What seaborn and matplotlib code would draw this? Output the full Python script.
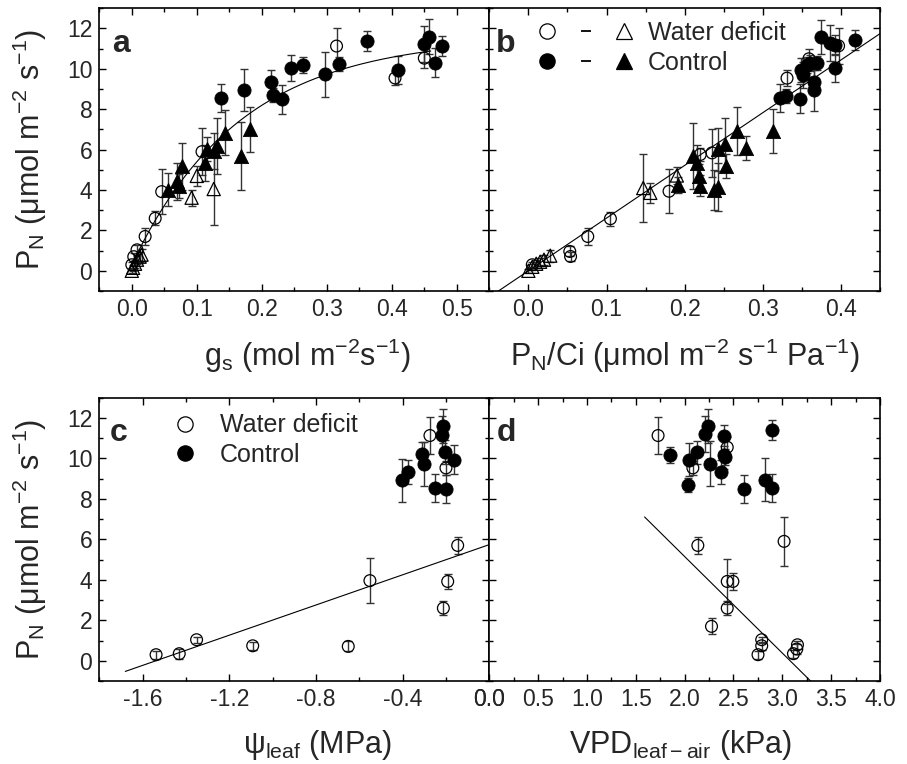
import numpy as np
import matplotlib
matplotlib.use("Agg")
import matplotlib.pyplot as plt
import seaborn as sns
from matplotlib.lines import Line2D
from matplotlib.legend_handler import HandlerTuple
from matplotlib.ticker import MultipleLocator

# ---------------- data ----------------
# (a) net photosynthesis vs stomatal conductance
a_wd_circ_x = [0.000, 0.003, 0.008, 0.0205, 0.036, 0.046, 0.108, 0.315, 0.405, 0.450]
a_wd_circ_y = [0.30, 0.70, 1.04, 1.70, 2.60, 3.92, 5.90, 11.13, 9.55, 10.53]
a_wd_circ_e = [0.15, 0.20, 0.25, 0.40, 0.35, 1.10, 1.17, 0.90, 0.35, 0.50]

a_wd_tri_x = [0.000, 0.002, 0.005, 0.008, 0.012, 0.015, 0.092, 0.100, 0.126]
a_wd_tri_y = [0.00, 0.15, 0.35, 0.55, 0.70, 0.80, 3.62, 4.70, 4.05]
a_wd_tri_e = [0.10, 0.15, 0.20, 0.20, 0.25, 0.30, 0.40, 0.50, 1.80]

a_ct_tri_x = [0.056, 0.069, 0.072, 0.077, 0.113, 0.115, 0.126, 0.131, 0.1435, 0.168, 0.182]
a_ct_tri_y = [4.02, 4.43, 4.19, 5.18, 5.35, 6.05, 5.92, 6.17, 6.84, 5.68, 7.00]
a_ct_tri_e = [0.80, 0.90, 0.60, 1.16, 0.90, 0.60, 0.90, 1.40, 1.10, 1.70, 1.10]

a_ct_circ_x = [0.137, 0.173, 0.214, 0.217, 0.231, 0.245, 0.264, 0.297, 0.319, 0.362,
               0.410, 0.449, 0.458, 0.467, 0.478]
a_ct_circ_y = [8.56, 8.95, 9.35, 8.69, 8.49, 10.05, 10.18, 9.73, 10.23, 11.40,
               9.96, 11.22, 11.60, 10.31, 11.15]
a_ct_circ_e = [0.70, 1.05, 0.58, 0.35, 0.70, 0.65, 0.40, 1.10, 0.35, 0.50,
               0.70, 0.90, 0.85, 0.70, 0.50]

# saturating fit P_N = y0 + A (1 - exp(-k gs))
a_fit_y0, a_fit_A, a_fit_k = 0.30, 11.3, 6.0
a_fit_range = (0.0, 0.46)

# (b) net photosynthesis vs carboxylation efficiency
b_wd_circ_x = [0.005, 0.053, 0.054, 0.076, 0.105, 0.180, 0.220, 0.235, 0.331, 0.359, 0.397]
b_wd_circ_y = [0.30, 0.96, 0.71, 1.70, 2.58, 3.94, 5.76, 5.84, 9.54, 10.50, 11.14]
b_wd_circ_e = [0.15, 0.25, 0.20, 0.40, 0.35, 1.10, 0.30, 1.17, 0.40, 0.50, 0.90]

b_wd_tri_x = [0.000, 0.005, 0.010, 0.015, 0.020, 0.028, 0.147, 0.156, 0.190]
b_wd_tri_y = [0.00, 0.20, 0.35, 0.45, 0.55, 0.75, 4.10, 3.86, 4.72]
b_wd_tri_e = [0.10, 0.15, 0.20, 0.20, 0.25, 0.30, 1.70, 0.50, 0.40]

b_ct_tri_x = [0.192, 0.211, 0.216, 0.218, 0.220, 0.237, 0.243, 0.243, 0.252, 0.253,
              0.267, 0.278, 0.313]
b_ct_tri_y = [4.27, 5.68, 5.35, 4.68, 4.22, 3.99, 4.16, 6.01, 6.26, 5.18,
              6.92, 6.09, 6.92]
b_ct_tri_e = [0.40, 1.65, 0.90, 0.60, 0.50, 1.00, 1.20, 1.08, 1.33, 0.60,
              1.20, 0.60, 1.10]

b_ct_circ_x = [0.322, 0.330, 0.348, 0.349, 0.352, 0.356, 0.361, 0.370, 0.365, 0.366,
               0.374, 0.386, 0.392, 0.392, 0.418]
b_ct_circ_y = [8.56, 8.66, 8.53, 9.93, 9.68, 10.18, 10.28, 10.28, 9.37, 8.96,
               11.59, 11.27, 11.20, 10.05, 11.42]
b_ct_circ_e = [0.70, 0.35, 0.70, 0.60, 0.65, 0.40, 0.40, 0.35, 0.58, 1.05,
               0.85, 0.90, 0.50, 0.70, 0.50]

b_fit_slope, b_fit_icpt = 26.1, 0.0
b_fit_range = (-0.05, 0.45)

# (c) net photosynthesis vs leaf water potential
c_wd_x = [-1.538, -1.431, -1.351, -1.092, -0.651, -0.551, -0.212, -0.192, -0.146, -0.274, -0.200]
c_wd_y = [0.30, 0.35, 1.04, 0.74, 0.71, 3.96, 2.60, 3.92, 5.70, 11.13, 9.53]
c_wd_e = [0.20, 0.25, 0.15, 0.20, 0.25, 1.10, 0.35, 0.35, 0.40, 0.90, 0.35]

c_ct_x = [-0.405, -0.377, -0.312, -0.300, -0.251, -0.220, -0.212, -0.205, -0.200, -0.163]
c_ct_y = [8.92, 9.33, 10.22, 9.72, 8.54, 11.18, 11.59, 10.30, 8.49, 9.94]
c_ct_e = [1.05, 0.60, 0.58, 1.10, 0.70, 0.90, 0.85, 0.60, 0.70, 0.70]

c_fit_slope, c_fit_icpt = 3.73, 5.74
c_fit_range = (-1.68, 0.0)

# (d) net photosynthesis vs leaf-to-air vapour pressure deficit
d_wd_x = [1.728, 2.084, 2.436, 2.135, 2.436, 2.494, 2.436, 2.275, 2.789, 2.789,
          2.751, 3.155, 3.148, 3.114, 3.018]
d_wd_y = [11.13, 9.53, 10.55, 5.70, 3.92, 3.92, 2.60, 1.70, 1.04, 0.74,
          0.30, 0.79, 0.58, 0.35, 5.90]
d_wd_e = [0.90, 0.35, 0.50, 0.40, 1.10, 0.40, 0.35, 0.40, 0.15, 0.20,
          0.20, 0.20, 0.25, 0.20, 1.20]

d_ct_x = [1.855, 2.032, 2.043, 2.128, 2.204, 2.241, 2.255, 2.375, 2.402, 2.402,
          2.412, 2.607, 2.820, 2.891, 2.891]
d_ct_y = [10.15, 8.70, 9.94, 10.30, 11.20, 11.59, 9.74, 9.33, 11.13, 10.19,
          10.05, 8.49, 8.95, 8.54, 11.39]
d_ct_e = [0.40, 0.35, 0.80, 0.58, 0.90, 0.85, 1.10, 0.58, 0.50, 0.70,
          0.40, 0.70, 1.05, 0.70, 0.50]

d_fit_slope, d_fit_icpt = -4.77, 14.69
d_fit_range = (1.59, 3.30)

# ---------------- style ----------------
sns.set_style("ticks")
plt.rcParams["font.family"] = ["Liberation Sans", "DejaVu Sans"]
plt.rcParams["mathtext.fontset"] = "custom"
plt.rcParams["mathtext.rm"] = "Liberation Sans"
plt.rcParams["mathtext.it"] = "Liberation Sans:italic"
plt.rcParams["axes.unicode_minus"] = False

fig = plt.figure(figsize=(9.07, 7.64), dpi=100)
W, H = 907.0, 764.0


def add_axes(x0, x1, y0, y1):
    return fig.add_axes([x0 / W, 1 - y1 / H, (x1 - x0) / W, (y1 - y0) / H])


ax_a = add_axes(99.3, 489.3, 8.3, 291.0)
ax_b = add_axes(489.3, 880.0, 8.3, 291.0)
ax_c = add_axes(99.3, 489.3, 397.7, 681.0)
ax_d = add_axes(489.3, 880.0, 397.7, 681.0)

S_FILL_CIRC = 90
S_OPEN_CIRC = 72
S_FILL_TRI = 105
S_OPEN_TRI = 90


def series(ax, x, y, e, marker, filled, size):
    ax.errorbar(x, y, yerr=e, fmt="none", ecolor="0.2", elinewidth=1.0,
                capsize=3, capthick=1.0, zorder=2)
    sns.scatterplot(x=x, y=y, ax=ax, marker=marker, s=size, color="black",
                    facecolor="black" if filled else "none",
                    edgecolor="black", linewidth=0.6 if filled else 0.9,
                    zorder=3, legend=False)


def fit_line(ax, xs, ys):
    sns.lineplot(x=xs, y=ys, ax=ax, color="black", linewidth=0.8,
                 estimator=None, sort=False, zorder=2.5)


def style(ax, xlim, xmaj, xmin, show_y):
    ax.set_xlim(*xlim)
    ax.set_ylim(-1, 13)
    ax.xaxis.set_major_locator(MultipleLocator(xmaj))
    ax.xaxis.set_minor_locator(MultipleLocator(xmin))
    ax.yaxis.set_major_locator(MultipleLocator(2))
    ax.yaxis.set_minor_locator(MultipleLocator(1))
    ax.tick_params(which="both", direction="in", top=True, right=True,
                   width=1.0, color="black")
    ax.tick_params(which="major", length=5)
    ax.tick_params(which="minor", length=3)
    ax.tick_params(labelsize=16.5, pad=5)
    if not show_y:
        ax.tick_params(labelleft=False)
    for sp in ax.spines.values():
        sp.set_linewidth(1.2)
        sp.set_color("black")
    ax.set_ylabel("")
    ax.set_xlabel("")


# panel a
series(ax_a, a_wd_circ_x, a_wd_circ_y, a_wd_circ_e, "o", False, S_OPEN_CIRC)
series(ax_a, a_wd_tri_x, a_wd_tri_y, a_wd_tri_e, "^", False, S_OPEN_TRI)
series(ax_a, a_ct_tri_x, a_ct_tri_y, a_ct_tri_e, "^", True, S_FILL_TRI)
series(ax_a, a_ct_circ_x, a_ct_circ_y, a_ct_circ_e, "o", True, S_FILL_CIRC)
gs = np.linspace(*a_fit_range, 200)
fit_line(ax_a, gs, a_fit_y0 + a_fit_A * (1 - np.exp(-a_fit_k * gs)))
style(ax_a, (-0.05, 0.55), 0.1, 0.05, True)

# panel b
series(ax_b, b_wd_circ_x, b_wd_circ_y, b_wd_circ_e, "o", False, S_OPEN_CIRC)
series(ax_b, b_wd_tri_x, b_wd_tri_y, b_wd_tri_e, "^", False, S_OPEN_TRI)
series(ax_b, b_ct_tri_x, b_ct_tri_y, b_ct_tri_e, "^", True, S_FILL_TRI)
series(ax_b, b_ct_circ_x, b_ct_circ_y, b_ct_circ_e, "o", True, S_FILL_CIRC)
bx = np.array(b_fit_range)
fit_line(ax_b, bx, b_fit_icpt + b_fit_slope * bx)
style(ax_b, (-0.05, 0.45), 0.1, 0.05, False)

# panel c
series(ax_c, c_wd_x, c_wd_y, c_wd_e, "o", False, S_OPEN_CIRC)
series(ax_c, c_ct_x, c_ct_y, c_ct_e, "o", True, S_FILL_CIRC)
cx = np.array(c_fit_range)
fit_line(ax_c, cx, c_fit_icpt + c_fit_slope * cx)
style(ax_c, (-1.8, 0.0), 0.4, 0.2, True)

# panel d
series(ax_d, d_wd_x, d_wd_y, d_wd_e, "o", False, S_OPEN_CIRC)
series(ax_d, d_ct_x, d_ct_y, d_ct_e, "o", True, S_FILL_CIRC)
dx = np.array(d_fit_range)
fit_line(ax_d, dx, d_fit_icpt + d_fit_slope * dx)
style(ax_d, (0.0, 4.0), 0.5, 0.25, False)

# axis titles
LBL = 22
pn = r"P$_\mathregular{N}$ (μmol m$^\mathregular{-2}$ s$^\mathregular{-1}$)"
ax_a.set_ylabel(pn, fontsize=LBL)
ax_c.set_ylabel(pn, fontsize=LBL)
ax_a.yaxis.set_label_coords(-0.13, 0.5)
ax_c.yaxis.set_label_coords(-0.13, 0.5)

ax_a.set_xlabel(r"g$_\mathregular{s}$ (mol m$^\mathregular{-2}$s$^\mathregular{-1}$)", fontsize=LBL)
ax_b.set_xlabel(r"P$_\mathregular{N}$/Ci (μmol m$^\mathregular{-2}$ s$^\mathregular{-1}$ Pa$^\mathregular{-1}$)", fontsize=LBL)
ax_c.set_xlabel(r"ψ$_\mathregular{leaf}$ (MPa)", fontsize=LBL)
ax_d.set_xlabel(r"VPD$_\mathregular{leaf-air}$ (kPa)", fontsize=LBL)
ax_a.xaxis.set_label_coords(0.533, -0.16)
ax_b.xaxis.set_label_coords(0.50, -0.16)
ax_c.xaxis.set_label_coords(0.56, -0.165)
ax_d.xaxis.set_label_coords(0.49, -0.165)

# panel letters
for ax, letter, xl in [(ax_a, "a", 0.033), (ax_b, "b", 0.018),
                       (ax_c, "c", 0.028), (ax_d, "d", 0.020)]:
    ax.text(xl, 0.847, letter, transform=ax.transAxes, fontsize=23,
            fontweight="bold", ha="left", va="baseline")

# legends
def mk(marker, filled, ms):
    return Line2D([], [], ls="none", marker=marker, markersize=ms,
                  markerfacecolor="black" if filled else "none",
                  markeredgecolor="black", markeredgewidth=0.9)

dash = Line2D([], [], ls="none", marker="_", markersize=7,
              markeredgecolor="black", markeredgewidth=1.3)

ax_b.legend(handles=[(mk("o", False, 11), dash, mk("^", False, 11.5)),
                     (mk("o", True, 11), dash, mk("^", True, 11.5))],
            labels=["Water deficit", "Control"],
            handler_map={tuple: HandlerTuple(ndivide=None, pad=0.9)},
            loc="upper left", bbox_to_anchor=(0.128, 0.955), frameon=False,
            fontsize=18, handlelength=3.7, handletextpad=0.65,
            labelspacing=0.22, borderpad=0, borderaxespad=0)

ax_c.legend(handles=[mk("o", False, 11), mk("o", True, 11)],
            labels=["Water deficit", "Control"],
            loc="upper left", bbox_to_anchor=(0.19, 0.945), frameon=False,
            fontsize=18, handlelength=0.9, handletextpad=0.95,
            labelspacing=0.22, borderpad=0, borderaxespad=0)

fig.savefig("out.png", dpi=100, facecolor="white")
